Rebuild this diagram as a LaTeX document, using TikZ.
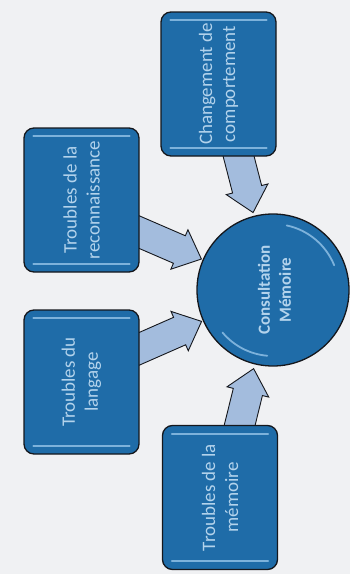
\documentclass[tikz,border=0pt]{standalone}
\usepackage{fontspec}
\setmainfont{Carlito}
\usetikzlibrary{calc}
\definecolor{paper}{HTML}{F0F1F3}
\definecolor{boxblue}{HTML}{1F6CA8}
\definecolor{txtblue}{HTML}{B3D3EC}
\definecolor{arrowfill}{HTML}{A3BCDD}
\definecolor{outl}{HTML}{15171C}
\definecolor{gloss}{HTML}{7DB2DB}
\pgfdeclarelayer{paperlayer}
\pgfdeclarelayer{arrowlayer}
\pgfsetlayers{paperlayer,arrowlayer,main}
\newcommand\blockarr[2]{%
  \coordinate (#1hb) at ($(#2)!24pt!(#1)$);
  \draw[blockarrow] ($(#1)!15pt!90:(#2)$) -- ($(#1hb)!15pt!90:(#2)$) -- ($(#1hb)!21.5pt!90:(#2)$) -- (#2)
    -- ($(#1hb)!21.5pt!-90:(#2)$) -- ($(#1hb)!15pt!-90:(#2)$) -- ($(#1)!15pt!-90:(#2)$) -- cycle;}
\begin{document}
\begin{tikzpicture}[x=1pt,y=-1pt,
  boxnode/.style={draw=outl, line width=1.3pt, fill=boxblue, rounded corners=10pt, minimum width=115pt, minimum height=144pt, inner sep=0pt},
  circnode/.style={circle, draw=outl, line width=1.3pt, fill=boxblue, minimum size=152pt, inner sep=0pt},
  boxtext/.style={rotate=90, text=txtblue, align=center, font=\fontsize{19}{23}\selectfont, inner sep=0pt},
  circtext/.style={rotate=90, text=txtblue, align=center, font=\bfseries\fontsize{17}{21}\selectfont, inner sep=0pt},
  blockarrow/.style={draw=outl, line width=0.9pt, fill=arrowfill, line join=miter},
  glossline/.style={gloss, line width=1.8pt, line cap=round}
]
\begin{pgfonlayer}{paperlayer}
  \fill[paper] (0,0) rectangle (350,574);
\end{pgfonlayer}
\useasboundingbox (0,0) rectangle (350,574);

% nodes
\node[boxnode] (A) at (218.5,84) {};
\node[boxnode] (B) at (81.5,200) {};
\node[boxnode] (C) at (81.5,382) {};
\node[boxnode] (D) at (220,497.5) {};
\node[circnode] (M) at (273,290) {};

% gloss
\foreach \n in {A,B,C,D}{
  \draw[glossline] ($(\n.north west)+(10,9)$) -- ($(\n.north east)+(-10,9)$);
  \draw[glossline] ($(\n.south west)+(10,-9)$) -- ($(\n.south east)+(-10,-9)$);
}
\draw[glossline] ($(M.center)+(-78:66)$) arc[start angle=-78, end angle=-22, radius=66];
\draw[glossline] ($(M.center)+(95:66)$) arc[start angle=95, end angle=140, radius=66];

% texts
\node[boxtext] (tA) at (A.center) {Changement de\\comportement};
\node[boxtext] (tB) at (B.center) {Troubles de la\\reconnaissance};
\node[boxtext] (tC) at (C.center) {Troubles du\\langage};
\node[boxtext] (tD) at (D.center) {Troubles de la\\mémoire};
\node[circtext] (tM) at ($(M.center)+(1.5,0)$) {Consultation\\Mémoire};

% arrows
\coordinate (aS) at (237,150);
\coordinate (bS) at (132,229);
\coordinate (cS) at (132,352);
\coordinate (dS) at (238,432);
\coordinate (aE) at ($(M.center)!80pt!(aS)$);
\coordinate (bE) at ($(M.center)!78pt!(bS)$);
\coordinate (cE) at ($(M.center)!78pt!(cS)$);
\coordinate (dE) at ($(M.center)!81pt!(dS)$);
\begin{pgfonlayer}{arrowlayer}
  \blockarr{aS}{aE}
  \blockarr{bS}{bE}
  \blockarr{cS}{cE}
  \blockarr{dS}{dE}
\end{pgfonlayer}
\end{tikzpicture}
\end{document}
